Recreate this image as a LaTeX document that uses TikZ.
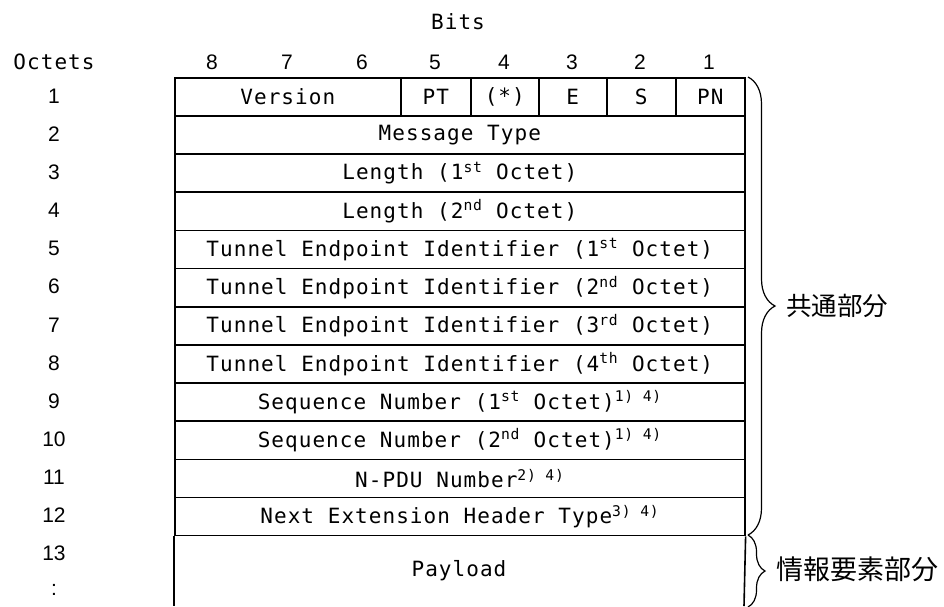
\documentclass[tikz,border=0pt]{standalone}
\usepackage{fontspec}
\setmainfont{DejaVu Sans Mono}[LetterSpace=5]
\newfontfamily\numfont{Liberation Sans}
\newfontfamily\jpfont{Noto Sans CJK JP}
\usetikzlibrary{decorations.pathreplacing}
\begin{document}
\begin{tikzpicture}[x=1pt,y=-1pt,font=\fontsize{21}{24}\selectfont,
  cell/.style={draw,line width=1.6pt,minimum height=38.15pt,inner sep=0pt,anchor=north west},
  lab/.style={inner sep=0pt},
  num/.style={inner sep=0pt,font=\fontsize{21}{24}\numfont},
  grp/.style={decorate,line width=1.2pt},
  jp/.style={anchor=west,inner sep=0pt}]
\useasboundingbox (0,0) rectangle (944,606);
\clip (0,0) rectangle (944,606);
% heading
\node[lab] (bits) at (458,22) {Bits};
\node[lab] (octets) at (54,62) {Octets};
\foreach \b/\x in {8/212,7/287,6/362,5/435,4/504,3/572,2/640,1/709}
  \node[num] (bit\b) at (\x,62) {\b};
% octet 1
\node[cell,minimum width=226pt] (ver) at (174,77) {Version};
\node[cell,minimum width=70pt] (pt) at (400,77) {PT};
\node[cell,minimum width=68pt] (star) at (470,77) {(*)};
\node[cell,minimum width=68pt] (e) at (538,77) {E};
\node[cell,minimum width=69pt] (s) at (606,77) {S};
\node[cell,minimum width=69pt] (pn) at (675,77) {PN};
% octets 2 - 12
\foreach \n/\txt in {2/Message Type,
  3/{Length (1\textsuperscript{st} Octet)},
  4/{Length (2\textsuperscript{nd} Octet)},
  5/{Tunnel Endpoint Identifier (1\textsuperscript{st} Octet)},
  6/{Tunnel Endpoint Identifier (2\textsuperscript{nd} Octet)},
  7/{Tunnel Endpoint Identifier (3\textsuperscript{rd} Octet)},
  8/{Tunnel Endpoint Identifier (4\textsuperscript{th} Octet)},
  9/{Sequence Number (1\textsuperscript{st} Octet)\textsuperscript{1)~4)}},
  10/{Sequence Number (2\textsuperscript{nd} Octet)\textsuperscript{1)~4)}},
  11/{N-PDU Number\textsuperscript{2)~4)}},
  12/{Next Extension Header Type\textsuperscript{3)~4)}}}
  \node[cell,minimum width=570pt] (oct\n) at (174,{77+(\n-1)*38.15}) {\txt};
\foreach \n in {1,...,12}
  \node[num] (num\n) at (54,{96+(\n-1)*38.15}) {\n};
% payload
\draw[line width=1.6pt] (oct12.south west) -- (174,606);
\draw[line width=1.6pt] (oct12.south east) -- (744,606);
\node[lab] (payload) at (459,571) {Payload};
\node[num] (num13) at (54,553) {13};
\node[num] (dots) at (54,590) {:};
% braces
\coordinate (c1) at (748,77);
\coordinate (c2) at (748,535);
\coordinate (c3) at (748,607);
\draw[grp,decoration={brace,amplitude=27pt}] (c1) -- (c2);
\node[jp,font=\fontsize{25.5}{28}\jpfont] (common) at (786,306) {共通部分};
\draw[grp,decoration={brace,amplitude=17pt}] (c2) -- (c3);
\node[jp,font=\fontsize{27}{30}\jpfont] (ie) at (776,569) {情報要素部分};
\end{tikzpicture}
\end{document}
